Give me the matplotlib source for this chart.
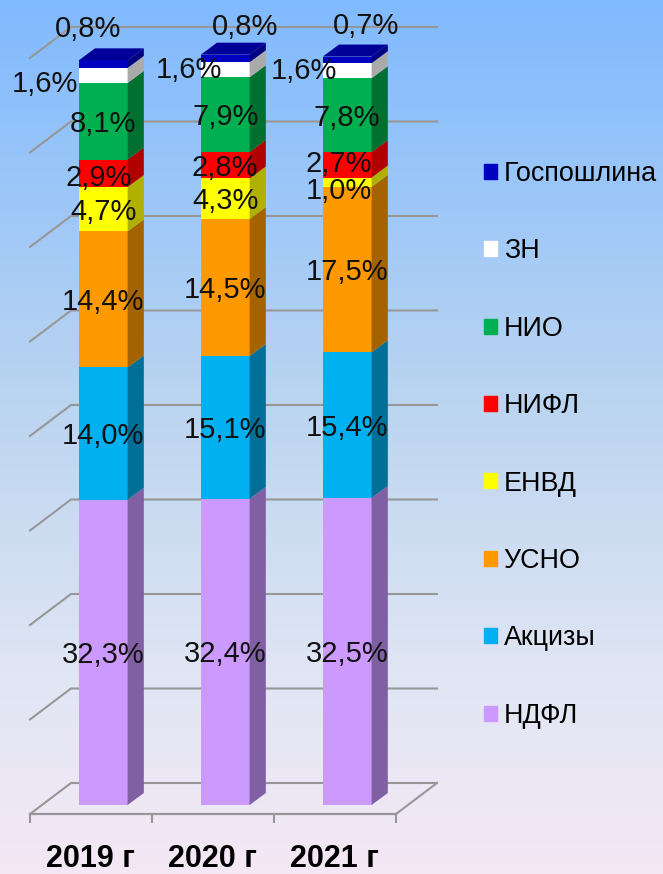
import numpy as np
import matplotlib
matplotlib.use('Agg')
import matplotlib.pyplot as plt
from matplotlib.colors import LinearSegmentedColormap
from matplotlib.patches import Patch

years = ['2019 г', '2020 г', '2021 г']
names = ['НДФЛ', 'Акцизы', 'УСНО', 'ЕНВД', 'НИФЛ', 'НИО', 'ЗН', 'Госпошлина']
ndfl = [32.3, 32.4, 32.5]
akcizy = [14.0, 15.1, 15.4]
usno = [14.4, 14.5, 17.5]
envd = [4.7, 4.3, 1.0]
nifl = [2.9, 2.8, 2.7]
nio = [8.1, 7.9, 7.8]
zn = [1.6, 1.6, 1.6]
gosposhlina = [0.8, 0.8, 0.7]
series = [ndfl, akcizy, usno, envd, nifl, nio, zn, gosposhlina]
grid_values = [0, 10, 20, 30, 40, 50, 60, 70, 80]

front = ['#CC99FF', '#00B0F0', '#FF9900', '#FFFF00', '#FF0000', '#00B050', '#FFFFFF', '#0000C0']
side = ['#8060A3', '#006F98', '#A56300', '#B0B000', '#B00000', '#007030', '#AAAAAA', '#000080']
top_color = '#000099'

# label nudges in pixels, (series, year): (dx, dy), dy up
nudge = {(6, 0): (-58, -6), (7, 0): (-15, 38), (6, 1): (-36, 2), (7, 1): (20, 34),
         (6, 2): (-43, 2), (7, 2): (19, 36), (4, 0): (-5, -2), (4, 2): (-8, 3),
         (3, 2): (-8, -6)}

W, H = 663, 874
fig = plt.figure(figsize=(W / 100, H / 100), dpi=100)

# background gradient
bg = fig.add_axes([0, 0, 1, 1], zorder=0)
cmap = LinearSegmentedColormap.from_list('bg', [(0, '#80BAFF'), (0.47, '#BCD5F0'), (0.78, '#E1E6F4'), (1, '#F5E8F5')])
bg.imshow(np.linspace(0, 1, 256).reshape(-1, 1), aspect='auto', cmap=cmap)
bg.axis('off')

# axes: bottom edge is the front floor line, 122 px per year, 9.45 px per percent
ax = fig.add_axes([30 / W, (H - 814) / H, 366 / W, (814 - 49) / H], zorder=1)
ax.patch.set_alpha(0)
ax.set_xlim(-0.6, 2.4)
ax.set_ylim(-0.95, 80)
for s in ['top', 'left', 'right']:
    ax.spines[s].set_visible(False)
grey = '#979797'
ax.spines['bottom'].set_color(grey)
ax.spines['bottom'].set_linewidth(1.6)
ax.set_yticks([])
ax.set_xticks([-0.6, 0.4, 1.4, 2.4])
ax.set_xticklabels([])
ax.tick_params(axis='x', which='major', length=6.5, width=1.5, color=grey)

x = np.arange(len(years))
# year labels sit left of the bars in the original
ax.set_xticks(x - 0.107, minor=True)
ax.set_xticklabels(years, minor=True, fontsize=22, fontweight='bold', family='Liberation Sans')
ax.tick_params(axis='x', which='minor', length=0, pad=21.5)

# walls
wall_dx, wall_dy = 0.336, 3.28
for g in grid_values:
    ax.plot([-0.6, -0.6 + wall_dx, 2.4 + wall_dx],
            [g - 0.95, g - 0.95 + wall_dy, g - 0.95 + wall_dy],
            color=grey, lw=1.5, clip_on=False, zorder=1, solid_joinstyle='miter')
ax.plot([2.4, 2.4 + wall_dx], [-0.95, -0.95 + wall_dy], color=grey, lw=1.5, clip_on=False, zorder=1)

# stacked bars with fake depth
bw = 0.4
dx, dy = 0.133, 1.27
bottom = np.zeros(3)
for i, vals in enumerate(series):
    vals = np.array(vals)
    ax.bar(x, vals, bw, bottom=bottom, color=front[i], clip_on=False, zorder=3)
    for j in range(3):
        r = x[j] + bw / 2
        ax.fill([r, r + dx, r + dx, r],
                [bottom[j], bottom[j] + dy, bottom[j] + vals[j] + dy, bottom[j] + vals[j]],
                color=side[i], lw=0, clip_on=False, zorder=3)
        if i == len(series) - 1:
            t = bottom[j] + vals[j]
            ax.fill([r - bw, r, r + dx, r - bw + dx], [t, t, t + dy, t + dy],
                    color=top_color, lw=0, clip_on=False, zorder=3)
        off = nudge.get((i, j), (0, 0))
        ax.annotate(('%.1f%%' % vals[j]).replace('.', ','),
                    (x[j], bottom[j] + vals[j] / 2),
                    xytext=(off[0] * 0.72, (off[1] - 2.5) * 0.72), textcoords='offset points',
                    ha='center', va='center', fontsize=21, color='#111111',
                    family='Liberation Sans', zorder=5, annotation_clip=False)
    bottom = bottom + vals

handles = [Patch(color=front[i], label=names[i]) for i in range(len(names))][::-1]
ax.legend(handles=handles, loc='upper left', bbox_to_anchor=(1.24, 0.854), frameon=False,
          prop={'family': 'Liberation Sans', 'size': 19.4}, labelspacing=1.91,
          handlelength=0.48, handleheight=0.48, handletextpad=0.26, borderpad=0, borderaxespad=0)

plt.savefig('out.png', dpi=100)
